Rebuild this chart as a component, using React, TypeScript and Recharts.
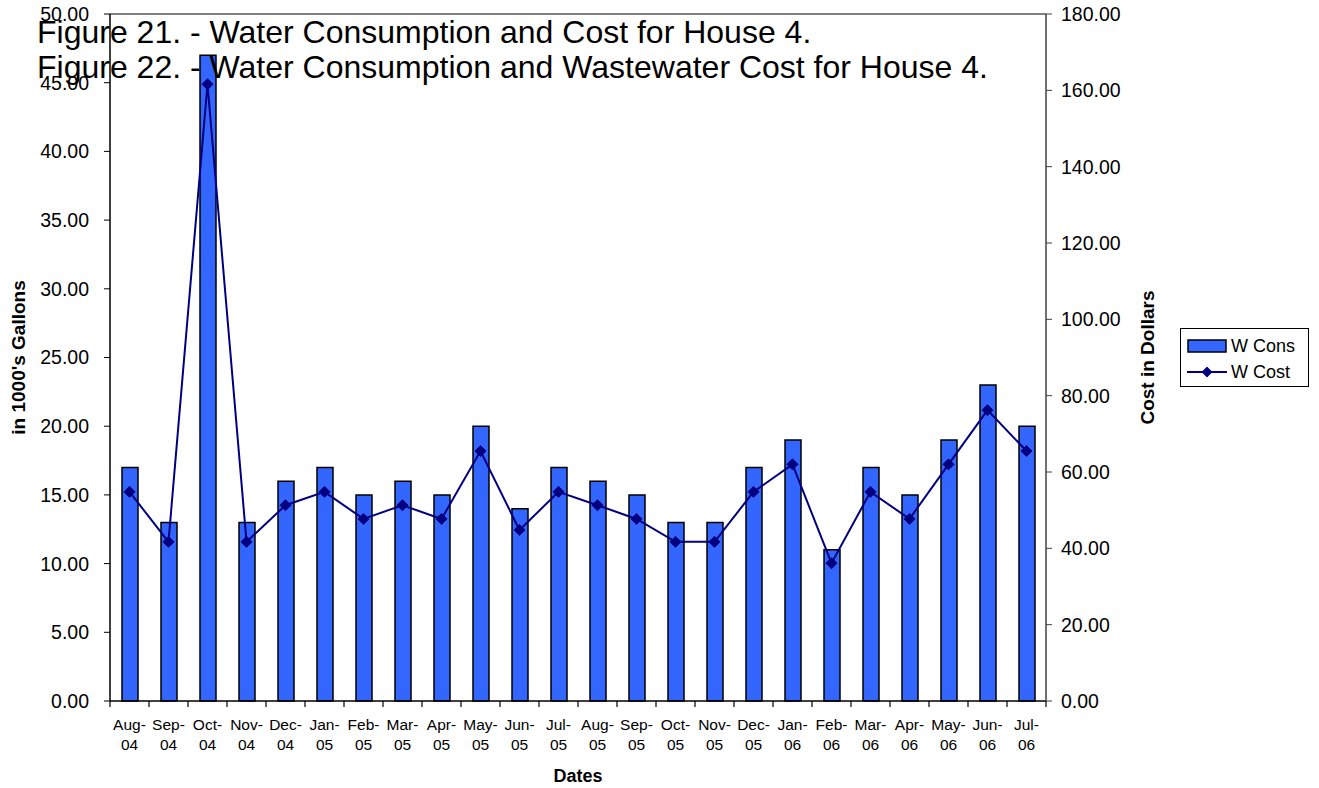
import React from "react";
import {
  ComposedChart, Bar, Line, XAxis, YAxis, Legend, ReferenceLine, Label,
} from "recharts";

const months = [
  "Aug-04", "Sep-04", "Oct-04", "Nov-04", "Dec-04", "Jan-05", "Feb-05", "Mar-05",
  "Apr-05", "May-05", "Jun-05", "Jul-05", "Aug-05", "Sep-05", "Oct-05", "Nov-05",
  "Dec-05", "Jan-06", "Feb-06", "Mar-06", "Apr-06", "May-06", "Jun-06", "Jul-06",
];
// thousands of gallons
const wCons = [17, 13, 47, 13, 16, 17, 15, 16, 15, 20, 14, 17, 16, 15, 13, 13, 17, 19, 11, 17, 15, 19, 23, 20];
// dollars
const wCost = [
  54.8, 41.7, 161.6, 41.7, 51.3, 54.8, 47.7, 51.3, 47.7, 65.5, 44.8, 54.8,
  51.3, 47.7, 41.7, 41.7, 54.8, 62.0, 36.1, 54.8, 47.7, 62.0, 76.2, 65.5,
];
const leftTicks = [0, 5, 10, 15, 20, 25, 30, 35, 40, 45, 50];
const rightTicks = [0, 20, 40, 60, 80, 100, 120, 140, 160, 180];
const titles = [
  "Figure 21. - Water Consumption and Cost for House 4.",
  "Figure 22. - Water Consumption and Wastewater Cost for House 4.",
];

const data = months.map((m, i) => ({ month: m, cons: wCons[i], cost: wCost[i] }));

const FONT = "'Liberation Sans', Arial, sans-serif";
const BAR_BLUE = "#3366FF";
const NAVY = "#000080";

function DateTick(props: any) {
  const { x, y, payload, index, width, visibleTicksCount } = props;
  const half = width && visibleTicksCount ? width / visibleTicksCount / 2 : 19.5;
  const [mon, yr] = String(payload.value).split("-");
  return (
    <g>
      <line x1={x - half} x2={x - half} y1={y - 6} y2={y} stroke="#000" strokeWidth={1.2} />
      {index === months.length - 1 && (
        <line x1={x + half} x2={x + half} y1={y - 6} y2={y} stroke="#000" strokeWidth={1.2} />
      )}
      <text x={x} y={y} textAnchor="middle" fontSize={15.5} fill="#000" fontFamily={FONT}>
        <tspan x={x} dy={23}>{mon}-</tspan>
        <tspan x={x} dy={19.5}>{yr}</tspan>
      </text>
    </g>
  );
}

function Diamond(props: any) {
  const { cx, cy } = props;
  if (cx == null || cy == null) return null;
  const r = 5.5;
  return (
    <polygon
      points={`${cx},${cy - r} ${cx + r},${cy} ${cx},${cy + r} ${cx - r},${cy}`}
      fill={NAVY}
      stroke={NAVY}
    />
  );
}

function LegendBox() {
  return (
    <div
      style={{
        border: "1px solid #000", background: "#fff", width: 129, height: 59,
        boxSizing: "border-box", fontFamily: FONT, fontSize: 18, color: "#000",
        padding: "6px 0 0 6px",
      }}
    >
      <div style={{ display: "flex", alignItems: "center", height: 22 }}>
        <svg width={42} height={14}>
          <rect x={1} y={1} width={38} height={12} fill={BAR_BLUE} stroke="#000" strokeWidth={1.5} />
        </svg>
        <span style={{ marginLeft: 2 }}>W Cons</span>
      </div>
      <div style={{ display: "flex", alignItems: "center", height: 30 }}>
        <svg width={42} height={14}>
          <line x1={0} x2={40} y1={7} y2={7} stroke={NAVY} strokeWidth={2} />
          <polygon points="20,1.5 25.5,7 20,12.5 14.5,7" fill={NAVY} />
        </svg>
        <span style={{ marginLeft: 2 }}>W Cost</span>
      </div>
    </div>
  );
}

export default function App() {
  return (
    <div style={{ position: "absolute", left: 0, top: 0, width: 1319, height: 788, background: "#fff" }}>
      <ComposedChart
        width={1319}
        height={788}
        data={data}
        margin={{ top: 14, right: 143, left: 0, bottom: 17 }}
        barCategoryGap={0}
      >
        <XAxis
          dataKey="month"
          xAxisId="x"
          height={70}
          interval={0}
          tickLine={false}
          tickSize={6}
          tickMargin={0}
          tick={<DateTick />}
          axisLine={{ stroke: "#000", strokeWidth: 1.5 }}
        >
          <Label
            content={({ viewBox }: any) => (
              <text
                x={viewBox.x + viewBox.width / 2}
                y={viewBox.y + 81}
                textAnchor="middle"
                fontSize={18}
                fontWeight="bold"
                fontFamily={FONT}
                fill="#000"
              >
                Dates
              </text>
            )}
          />
        </XAxis>
        <YAxis
          yAxisId="left"
          orientation="left"
          width={110}
          domain={[0, 50]}
          ticks={leftTicks}
          interval={0}
          tickFormatter={(v: number) => v.toFixed(2)}
          tickSize={6}
          tickMargin={15}
          tick={{ fontSize: 19.5, fill: "#000", fontFamily: FONT }}
          tickLine={{ stroke: "#000" }}
          axisLine={{ stroke: "#000", strokeWidth: 1.5 }}
        >
          <Label
            content={({ viewBox }: any) => {
              const x = viewBox.x + 18;
              const y = viewBox.y + viewBox.height / 2;
              return (
                <text
                  x={x} y={y} transform={`rotate(-90 ${x} ${y})`}
                  textAnchor="middle" dominantBaseline="central"
                  fontSize={19} fontWeight="bold" fontFamily={FONT} fill="#000"
                >
                  in 1000's Gallons
                </text>
              );
            }}
          />
        </YAxis>
        <YAxis
          yAxisId="right"
          orientation="right"
          width={130}
          domain={[0, 180]}
          ticks={rightTicks}
          interval={0}
          tickFormatter={(v: number) => v.toFixed(2)}
          tickSize={6}
          tickMargin={9}
          tick={{ fontSize: 19.5, fill: "#000", fontFamily: FONT }}
          tickLine={{ stroke: "#404040" }}
          axisLine={{ stroke: "#404040", strokeWidth: 1.5 }}
        >
          <Label
            content={({ viewBox }: any) => {
              const x = viewBox.x + 101;
              const y = viewBox.y + viewBox.height / 2;
              return (
                <text
                  x={x} y={y} transform={`rotate(-90 ${x} ${y})`}
                  textAnchor="middle" dominantBaseline="central"
                  fontSize={19} fontWeight="bold" fontFamily={FONT} fill="#000"
                >
                  Cost in Dollars
                </text>
              );
            }}
          />
        </YAxis>
        <ReferenceLine yAxisId="left" xAxisId="x" y={50} stroke="#808080" strokeWidth={2} />
        <Bar
          dataKey="cons"
          name="W Cons"
          xAxisId="x"
          yAxisId="left"
          fill={BAR_BLUE}
          stroke="#000"
          strokeWidth={1.5}
          barSize={16}
          isAnimationActive={false}
        />
        <Line
          dataKey="cost"
          name="W Cost"
          xAxisId="x"
          yAxisId="right"
          type="linear"
          stroke={NAVY}
          strokeWidth={2}
          dot={<Diamond />}
          activeDot={false}
          isAnimationActive={false}
        />
        <Legend
          layout="vertical"
          align="center"
          verticalAlign="middle"
          content={() => <LegendBox />}
          wrapperStyle={{ position: "absolute", left: 1180, top: 328, width: 130, height: 60 }}
        />
      </ComposedChart>
      <svg
        width={1319}
        height={100}
        style={{ position: "absolute", left: 0, top: 0, pointerEvents: "none" }}
      >
        {titles.map((t, i) => (
          <text key={t} x={37} y={43 + i * 34.5} fontSize={32} fontFamily={FONT} fill="#000">
            {t}
          </text>
        ))}
      </svg>
    </div>
  );
}
